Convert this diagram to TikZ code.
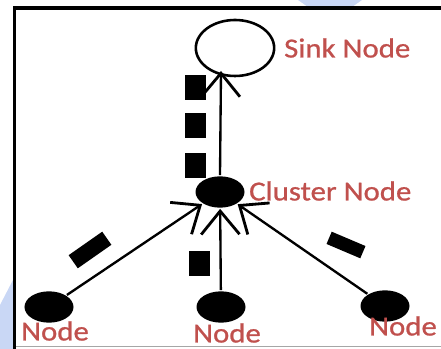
\documentclass[tikz,border=0pt]{standalone}
\usepackage{fontspec}
\setmainfont{Carlito}
\newfontfamily\lblfont[FakeStretch=1.12,FakeBold=0.8]{Carlito}
\usetikzlibrary{arrows.meta,shapes.geometric}
\definecolor{labelred}{RGB}{192,80,77}
\definecolor{markblue}{RGB}{201,215,245}

\begin{document}
\begin{tikzpicture}[x=0.03cm,y=-0.03cm,line width=2pt,
  dot/.style={ellipse,fill=black,inner sep=0,minimum width=1.47cm,minimum height=0.94cm},
  sinkdot/.style={ellipse,draw,line width=2.2pt,inner sep=0,minimum width=2.35cm,minimum height=1.68cm},
  packet/.style={fill=black,inner sep=0,minimum width=0.63cm,minimum height=0.75cm},
  lbl/.style={text=labelred,inner sep=0,font=\lblfont\fontsize{23.5}{23.5}\selectfont},
  link/.style={-{Straight Barb[length=0.7cm,width=1.15cm,line width=2.4pt]}}]
\useasboundingbox (0,0) rectangle (441,349);
\clip (0,0) rectangle (441,349);
% background marks and frame
\fill[markblue] (298,0)--(362,0)--(352,7)--(308,7)--cycle;
\fill[markblue] (13,280)--(13,349)--(0,349)--(0,305)--cycle;
\draw[gray!70,line width=0.8pt] (16,346.5)--(441,346.5);
\draw[line width=3pt] (14.5,349)--(14.5,8)--(441,8);
% nodes
\node[sinkdot] (sink) at (235,48) {};
\node[dot] (cluster) at (220,192) {};
\node[dot] (left) at (49,307) {};
\node[dot] (mid) at (221,307) {};
\node[dot] (right) at (385,306) {};
\coordinate (sinkin) at (221,71);
% packets
\node[packet] (p1) at (195.5,87.5) {};
\node[packet] (p2) at (195.5,125.5) {};
\node[packet] (p3) at (195.5,165.5) {};
\node[packet] (p4) at (199.5,264) {};
\node[packet,minimum width=1.23cm,minimum height=0.48cm,rotate=35] (p5) at (90,250) {};
\node[packet,minimum width=1.1cm,minimum height=0.4cm,rotate=-23] (p6) at (346,245) {};
% links
\draw[link] (cluster.north) -- (sinkin);
\draw[link] (left) -- (cluster);
\draw[link] (mid) -- (cluster);
\draw[link] (right) -- (cluster);
% labels
\node[lbl,anchor=west] (sinklbl) at (283,48) {Sink Node};
\node[lbl,anchor=west] (clusterlbl) at (248,191) {Cluster Node};
\node[lbl] (leftlbl) at (55,331) {Node};
\node[lbl] (midlbl) at (227,333) {Node};
\node[lbl] (rightlbl) at (403,326) {Node};
\end{tikzpicture}
\end{document}
